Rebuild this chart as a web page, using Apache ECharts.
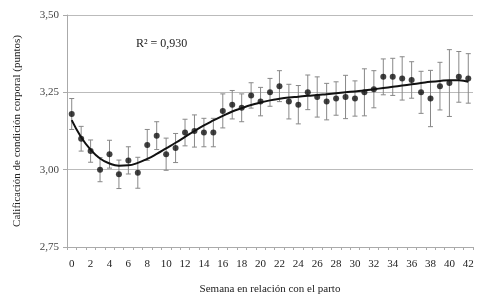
<!DOCTYPE html>
<html>
<head>
    <meta charset="UTF-8">
    <title>Condición corporal</title>
    <script src="https://cdn.jsdelivr.net/npm/echarts@6/dist/echarts.min.js"></script>
    <style>
        * { margin: 0; padding: 0; }
        body { background: #fff; }
        #chart { width: 495px; height: 305px; }
    </style>
</head>
<body>
    <div id="chart"></div>
    <script>
        const weeks = ['0','1','2','3','4','5','6','7','8','9','10','11','12','13','14','15','16','17','18','19','20','21',
            '22','23','24','25','26','27','28','29','30','31','32','33','34','35','36','37','38','39','40','41','42'];
        const bcs = [3.18, 3.10, 3.06, 3.00, 3.05, 2.985, 3.03, 2.99, 3.08, 3.11, 3.05, 3.07, 3.12, 3.125, 3.12, 3.12,
            3.19, 3.21, 3.20, 3.24, 3.22, 3.25, 3.27, 3.22, 3.21, 3.25, 3.235, 3.22, 3.23, 3.235, 3.23, 3.25,
            3.26, 3.30, 3.30, 3.295, 3.29, 3.25, 3.23, 3.27, 3.28, 3.30, 3.295];
        const errs = [0.05, 0.04, 0.036, 0.039, 0.045, 0.046, 0.044, 0.05, 0.05, 0.045, 0.052, 0.047, 0.043, 0.052, 0.046, 0.046,
            0.055, 0.046, 0.045, 0.041, 0.046, 0.045, 0.05, 0.056, 0.062, 0.056, 0.065, 0.059, 0.054, 0.07, 0.057, 0.076,
            0.06, 0.058, 0.06, 0.07, 0.059, 0.068, 0.091, 0.077, 0.108, 0.082, 0.08];
        const fit = [3.16, 3.105, 3.065, 3.036, 3.02, 3.013, 3.014, 3.022, 3.035, 3.051, 3.069, 3.087, 3.106, 3.125, 3.143, 3.159,
            3.174, 3.188, 3.199, 3.209, 3.217, 3.224, 3.229, 3.233, 3.236, 3.239, 3.241, 3.244, 3.247, 3.25, 3.253, 3.256,
            3.26, 3.264, 3.268, 3.272, 3.276, 3.28, 3.284, 3.287, 3.289, 3.289, 3.284];
        const yTicks = [2.75, 3.00, 3.25, 3.50];

        const font = '"Liberation Serif", "Times New Roman", serif';
        const chart = echarts.init(document.getElementById('chart'));

        const barData = bcs.map((v, i) => [i, v - errs[i], v + errs[i]]);

        chart.setOption({
            animation: false,
            grid: { left: 67, right: 22, top: 15, bottom: 58 },
            graphic: [{
                type: 'text',
                left: 136,
                top: 38,
                style: { text: 'R² = 0,930', font: '12px ' + font, fill: '#222' }
            }],
            xAxis: {
                type: 'category',
                data: weeks,
                name: 'Semana en relación con el parto',
                nameLocation: 'middle',
                nameGap: 37,
                nameTextStyle: { fontFamily: font, fontSize: 11, color: '#222' },
                axisLine: { lineStyle: { color: '#aaa' } },
                axisTick: { show: true, interval: 0, length: 3, lineStyle: { color: '#aaa' } },
                axisLabel: { interval: 1, fontFamily: font, fontSize: 11, color: '#222', margin: 12 }
            },
            yAxis: {
                type: 'value',
                min: yTicks[0],
                max: yTicks[yTicks.length - 1],
                interval: 0.25,
                name: 'Calificación de condición corporal (puntos)',
                nameLocation: 'middle',
                nameGap: 44,
                nameTextStyle: { fontFamily: font, fontSize: 11, color: '#222' },
                axisLine: { show: true, lineStyle: { color: '#aaa' } },
                axisTick: { show: true, length: 4, lineStyle: { color: '#aaa' } },
                axisLabel: {
                    fontFamily: font, fontSize: 11, color: '#444', margin: 8,
                    formatter: v => v.toFixed(2).replace('.', ',')
                },
                splitLine: { lineStyle: { color: '#bbb' } }
            },
            series: [
                {
                    type: 'custom',
                    data: barData,
                    z: 1,
                    renderItem: function (params, api) {
                        const lo = api.coord([api.value(0), api.value(1)]);
                        const hi = api.coord([api.value(0), api.value(2)]);
                        const w = 2.5;
                        const st = { stroke: '#888', lineWidth: 1 };
                        return {
                            type: 'group',
                            children: [
                                { type: 'line', shape: { x1: lo[0], y1: lo[1], x2: hi[0], y2: hi[1] }, style: st },
                                { type: 'line', shape: { x1: lo[0] - w, y1: lo[1], x2: lo[0] + w, y2: lo[1] }, style: st },
                                { type: 'line', shape: { x1: hi[0] - w, y1: hi[1], x2: hi[0] + w, y2: hi[1] }, style: st }
                            ]
                        };
                    }
                },
                {
                    type: 'line',
                    data: fit,
                    smooth: true,
                    symbol: 'none',
                    z: 2,
                    lineStyle: { color: '#111', width: 2 }
                },
                {
                    type: 'scatter',
                    data: bcs,
                    symbol: 'circle',
                    symbolSize: 6,
                    z: 3,
                    itemStyle: { color: '#111' }
                }
            ]
        });
    </script>
</body>
</html>
